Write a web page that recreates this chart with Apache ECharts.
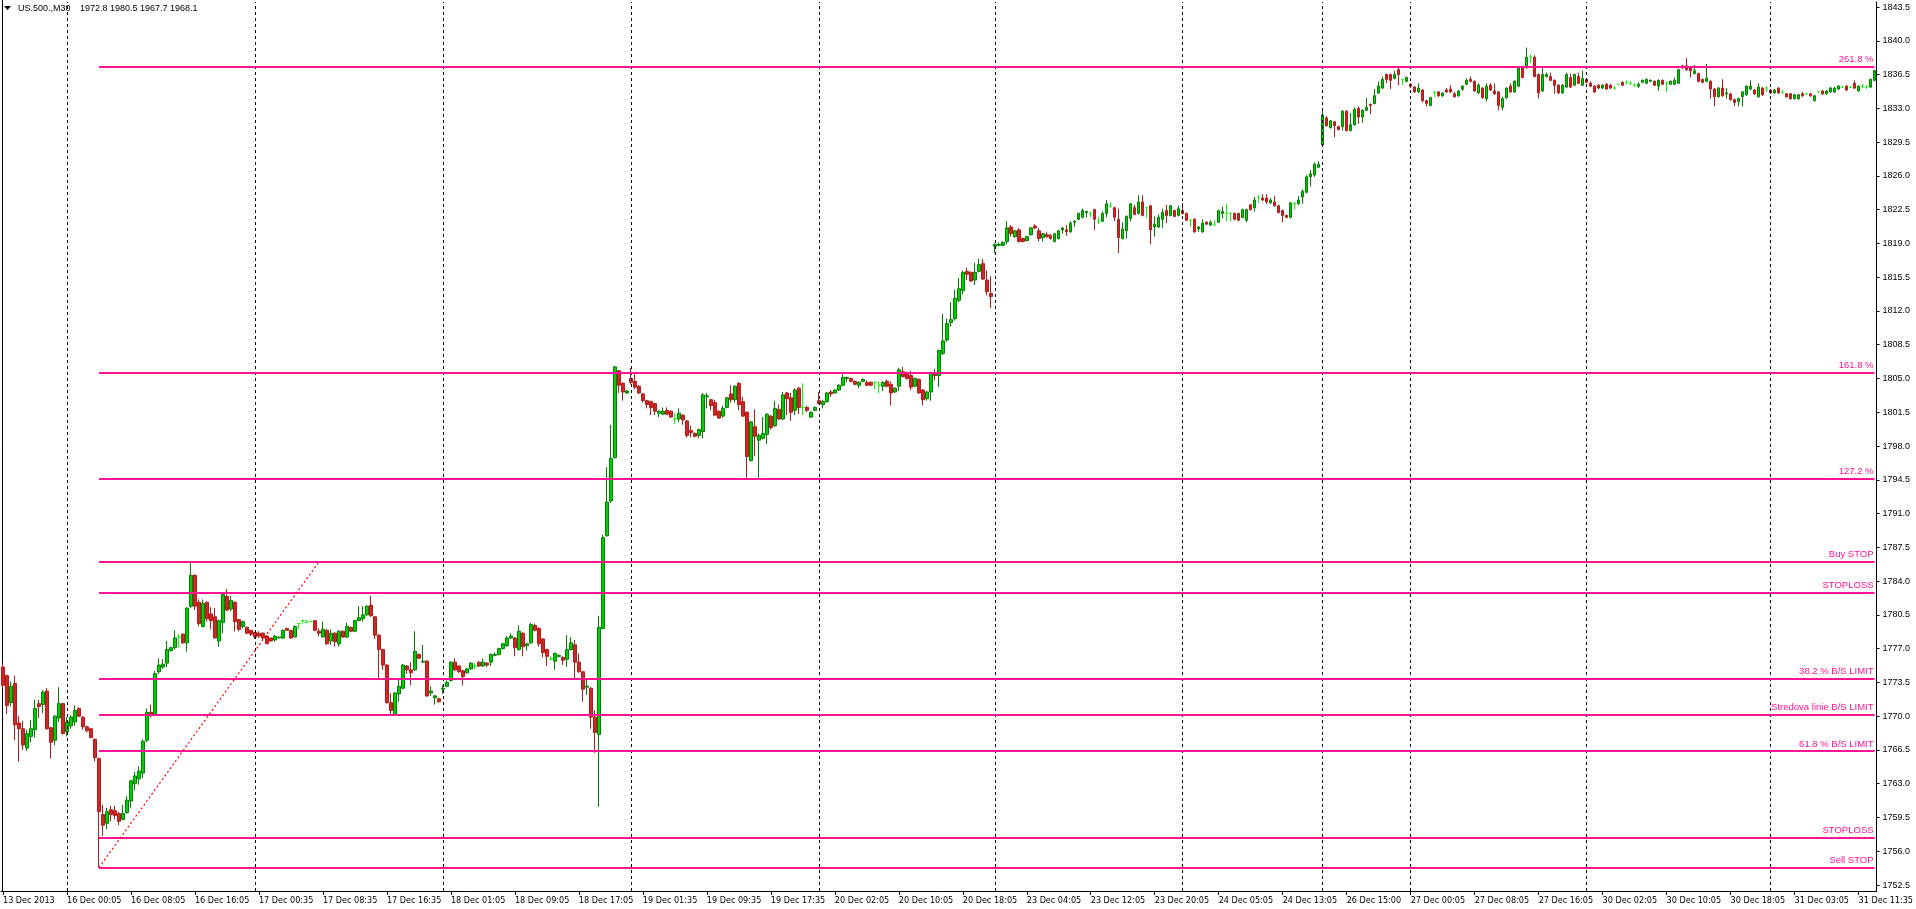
<!DOCTYPE html>
<html><head><meta charset="utf-8">
<script src="https://cdn.jsdelivr.net/npm/echarts@6/dist/echarts.min.js"></script>
<style>html,body{margin:0;padding:0;background:#fff;overflow:hidden}#c{width:1916px;height:909px}</style>
</head><body><div id="c"></div>
<script>
const symbolTitle = 'US.500.,M30';
const titleQuote = '1972.8 1980.5 1967.7 1968.1';
const timeLabels = ['13 Dec 2013','16 Dec 00:05','16 Dec 08:05','16 Dec 16:05','17 Dec 00:35','17 Dec 08:35','17 Dec 16:35','18 Dec 01:05','18 Dec 09:05','18 Dec 17:05','19 Dec 01:35','19 Dec 09:35','19 Dec 17:35','20 Dec 02:05','20 Dec 10:05','20 Dec 18:05','23 Dec 04:05','23 Dec 12:05','23 Dec 20:05','24 Dec 05:05','24 Dec 13:05','26 Dec 15:00','27 Dec 00:05','27 Dec 08:05','27 Dec 16:05','30 Dec 02:05','30 Dec 10:05','30 Dec 18:05','31 Dec 03:05','31 Dec 11:35'];
const labelStep = 16;
const priceTicks = [1752.5,1756.0,1759.5,1763.0,1766.5,1770.0,1773.5,1777.0,1780.5,1784.0,1787.5,1791.0,1794.5,1798.0,1801.5,1805.0,1808.5,1812.0,1815.5,1819.0,1822.5,1826.0,1829.5,1833.0,1836.5,1840.0,1843.5];
const daySeparators = [16,63,110,157,204,248,295,330,352,396,442];
const levelNames = ['261.8 %','161.8 %','127.2 %','Buy STOP','STOPLOSS','38.2 % B/S LIMIT','Stredova linie B/S LIMIT','61.8 % B/S LIMIT','STOPLOSS','Sell STOP'];
const levelPrices = [1837.3,1805.6,1794.6,1786.0,1782.8,1773.9,1770.15,1766.4,1757.4,1754.3];
const levelStartBar = 24;
const fiboTrend = [[24,1754.3],[79,1786.0]];
// [open, close, low, high]
const ohlc = [
[1775.1,1773.2,1772.9,1775.5],[1774.2,1771.1,1770.2,1774.3],[1771.4,1773.1,1771.0,1773.6],[1773.4,1769.1,1767.5,1774.2],[1769.3,1768.7,1765.3,1770.0],[1768.7,1767.0,1766.5,1769.5],[1766.7,1768.2,1766.4,1768.6],[1767.9,1768.7,1767.3,1769.6],[1768.6,1770.8,1767.8,1771.7],[1771.3,1771.0,1769.8,1771.7],
[1771.2,1772.5,1770.3,1772.7],[1772.6,1768.7,1768.6,1772.9],[1768.8,1767.3,1765.6,1768.9],[1767.5,1770.0,1767.0,1770.1],[1769.8,1771.3,1769.4,1773.0],[1771.3,1768.2,1768.1,1771.4],[1768.4,1769.4,1767.9,1769.9],[1769.0,1769.9,1768.7,1770.1],[1769.4,1770.6,1769.0,1771.1],[1770.8,1770.0,1769.9,1770.9],
[1769.9,1768.9,1768.6,1770.0],[1768.9,1768.5,1768.3,1769.0],[1768.7,1767.8,1767.7,1768.8],[1767.6,1765.7,1765.3,1767.7],[1765.6,1760.1,1754.3,1765.7],[1759.8,1758.7,1757.6,1760.8],[1758.9,1760.1,1758.3,1760.5],[1760.3,1759.8,1759.1,1760.7],[1760.2,1759.7,1759.3,1760.7],[1759.9,1759.1,1758.7,1760.1],
[1759.3,1759.9,1759.2,1760.8],[1760.0,1761.3,1759.9,1761.7],[1761.2,1763.3,1760.5,1763.4],[1763.0,1763.8,1762.3,1764.2],[1763.5,1764.3,1762.9,1764.8],[1764.1,1767.4,1763.6,1767.6],[1767.5,1770.4,1767.3,1770.8],[1770.4,1770.1,1769.9,1771.2],[1770.2,1774.4,1770.0,1774.7],[1774.6,1775.3,1774.4,1776.0],
[1775.1,1775.4,1774.9,1775.9],[1775.5,1776.9,1775.1,1777.8],[1776.8,1777.1,1776.7,1777.2],[1777.1,1778.1,1776.9,1778.9],[1778.2,1778.2,1777.1,1778.5],[1778.5,1777.6,1777.5,1778.6],[1777.6,1781.2,1776.7,1781.3],[1781.4,1784.6,1781.2,1785.9],[1784.6,1781.4,1781.0,1784.7],[1781.8,1779.6,1779.3,1782.1],
[1779.3,1781.7,1779.2,1782.1],[1781.8,1780.1,1779.8,1781.9],[1780.6,1779.9,1779.0,1781.3],[1780.3,1778.1,1778.1,1781.2],[1777.8,1779.9,1777.2,1780.0],[1779.7,1782.6,1778.6,1782.8],[1782.4,1781.0,1780.9,1783.2],[1781.1,1782.0,1780.9,1782.5],[1781.8,1779.8,1778.8,1781.9],[1780.0,1779.0,1778.8,1780.1],
[1779.3,1779.8,1779.1,1779.9],[1779.2,1778.6,1778.5,1779.3],[1778.9,1778.5,1778.3,1778.9],[1778.7,1778.2,1778.0,1778.7],[1778.6,1778.3,1778.1,1778.8],[1778.6,1778.1,1777.9,1778.7],[1778.3,1777.5,1777.5,1778.4],[1778.1,1777.8,1777.7,1778.1],[1777.9,1778.3,1777.7,1778.4],[1778.1,1778.2,1778.1,1778.2],
[1778.1,1778.9,1778.0,1779.0],[1779.1,1778.9,1778.9,1779.1],[1778.9,1778.1,1778.0,1778.9],[1778.2,1779.3,1778.2,1779.4],[1779.6,1779.6,1779.0,1779.6],[1779.9,1779.9,1779.6,1780.0],[1779.7,1779.7,1779.7,1780.0],[1779.8,1779.8,1779.8,1779.8],[1779.9,1778.9,1778.8,1779.9],[1778.8,1778.6,1778.3,1779.1],
[1778.2,1779.0,1778.2,1779.8],[1778.9,1777.5,1777.4,1779.0],[1777.8,1778.6,1777.4,1779.0],[1778.6,1777.7,1777.2,1778.7],[1777.5,1778.8,1777.2,1778.9],[1778.8,1778.2,1778.1,1778.9],[1778.2,1779.3,1778.1,1779.7],[1779.2,1778.8,1778.7,1779.3],[1778.8,1779.9,1778.7,1780.0],[1779.9,1780.2,1779.9,1781.4],
[1780.1,1780.5,1779.8,1781.4],[1780.5,1781.4,1780.4,1781.5],[1781.5,1780.4,1780.3,1782.5],[1780.3,1778.4,1778.0,1780.4],[1778.4,1776.9,1773.9,1778.5],[1776.9,1775.3,1774.8,1777.0],[1775.3,1771.4,1771.3,1775.4],[1771.4,1770.6,1770.0,1772.4],[1770.2,1772.4,1770.1,1772.5],[1772.3,1773.1,1771.5,1773.9],
[1772.9,1775.3,1772.8,1775.4],[1775.2,1774.8,1774.4,1775.3],[1774.8,1774.5,1773.2,1775.6],[1774.8,1776.7,1774.7,1778.8],[1776.4,1776.0,1775.9,1776.5],[1775.6,1775.7,1775.6,1777.4],[1775.7,1772.1,1772.0,1775.8],[1772.4,1772.6,1772.1,1773.1],[1771.9,1772.1,1771.2,1772.2],[1771.8,1771.5,1771.4,1771.9],
[1772.8,1772.9,1772.3,1773.2],[1773.1,1773.5,1773.0,1773.7],[1773.7,1775.6,1773.6,1775.7],[1775.6,1774.8,1774.7,1776.0],[1775.2,1774.6,1774.5,1775.3],[1774.7,1774.1,1773.2,1774.8],[1774.5,1774.9,1774.4,1775.0],[1774.9,1775.5,1774.8,1775.6],[1775.2,1775.2,1774.9,1775.5],[1775.6,1775.2,1775.1,1775.7],
[1775.2,1775.6,1775.1,1776.0],[1775.5,1775.3,1775.1,1775.6],[1775.6,1776.4,1775.2,1776.5],[1776.3,1776.4,1776.2,1776.6],[1776.4,1777.0,1776.3,1777.1],[1777.0,1777.5,1776.9,1777.6],[1777.3,1778.1,1777.2,1778.3],[1778.1,1778.3,1778.0,1778.6],[1778.1,1777.1,1776.2,1778.2],[1776.9,1778.8,1776.8,1779.4],
[1778.6,1777.2,1776.2,1778.7],[1777.3,1777.5,1776.8,1777.6],[1777.6,1779.5,1777.5,1779.7],[1779.4,1778.9,1778.8,1779.6],[1779.1,1777.5,1777.2,1779.2],[1778.0,1776.6,1776.1,1778.1],[1776.9,1776.2,1775.2,1777.0],[1775.9,1775.9,1775.9,1776.2],[1775.7,1776.5,1774.8,1776.6],[1776.2,1776.3,1776.1,1776.4],
[1776.1,1775.8,1775.3,1776.2],[1775.9,1776.9,1775.1,1778.4],[1776.9,1777.6,1776.8,1778.2],[1777.4,1775.6,1773.9,1777.9],[1775.6,1774.6,1774.5,1776.5],[1774.6,1772.8,1771.5,1774.7],[1773.0,1773.1,1772.2,1773.9],[1772.9,1769.9,1768.7,1773.0],[1769.9,1768.3,1766.2,1770.6],[1768.1,1779.2,1760.6,1780.4],
[1779.1,1788.5,1779.0,1788.8],[1788.7,1792.2,1788.6,1795.8],[1792.3,1796.7,1792.1,1800.2],[1796.8,1806.2,1796.7,1806.3],[1805.8,1804.3,1803.5,1805.9],[1804.5,1803.6,1802.7,1804.6],[1803.5,1803.7,1803.4,1803.8],[1805.0,1804.6,1804.4,1806.1],[1804.7,1804.1,1803.9,1805.5],[1804.2,1803.5,1803.4,1804.3],
[1803.4,1802.7,1802.5,1803.5],[1802.7,1802.3,1801.9,1802.8],[1802.6,1802.0,1801.2,1802.7],[1802.4,1801.6,1801.2,1802.5],[1801.4,1801.6,1801.0,1801.7],[1801.3,1801.6,1801.2,1802.0],[1801.7,1801.3,1801.2,1802.0],[1801.6,1801.0,1800.9,1801.7],[1800.8,1800.8,1800.3,1801.4],[1800.8,1801.4,1800.5,1801.9],
[1801.2,1800.7,1800.2,1801.3],[1800.6,1799.1,1798.9,1800.7],[1799.6,1799.4,1798.9,1800.1],[1799.3,1799.0,1798.9,1799.4],[1799.1,1799.7,1798.8,1799.8],[1799.5,1803.3,1798.8,1803.5],[1803.1,1803.2,1801.9,1803.5],[1802.8,1802.2,1801.7,1802.9],[1802.5,1801.2,1801.1,1802.8],[1801.6,1800.9,1800.8,1801.7],
[1801.1,1801.9,1800.9,1802.2],[1802.0,1803.0,1801.9,1803.1],[1803.4,1802.8,1802.5,1804.3],[1802.8,1804.2,1802.5,1804.3],[1804.5,1802.3,1801.7,1804.6],[1802.6,1801.1,1801.0,1803.1],[1801.5,1796.9,1794.7,1801.6],[1796.5,1800.5,1796.4,1800.6],[1800.0,1799.0,1797.0,1801.8],[1798.6,1799.1,1794.7,1799.3],
[1798.8,1799.3,1798.7,1801.0],[1799.2,1801.3,1798.2,1801.4],[1801.1,1799.9,1799.7,1801.2],[1800.1,1801.9,1800.0,1802.7],[1801.8,1800.8,1800.7,1802.3],[1800.8,1803.3,1800.7,1803.6],[1803.5,1802.9,1801.2,1803.6],[1803.0,1801.5,1800.6,1803.5],[1801.7,1803.8,1801.2,1804.0],[1804.0,1802.0,1801.3,1804.1],
[1802.0,1802.0,1801.2,1804.5],[1802.0,1801.7,1801.5,1802.2],[1801.0,1801.5,1800.9,1801.6],[1801.7,1802.0,1801.6,1802.1],[1802.7,1802.4,1802.3,1803.6],[1802.3,1802.6,1801.9,1802.8],[1802.6,1803.5,1802.5,1803.6],[1803.6,1803.4,1803.1,1803.8],[1803.5,1803.8,1803.4,1803.9],[1803.8,1804.3,1803.7,1804.4],
[1804.3,1805.1,1804.2,1805.6],[1805.0,1805.1,1804.6,1805.2],[1805.0,1804.7,1804.6,1805.1],[1804.7,1804.4,1804.3,1804.8],[1804.3,1804.6,1804.0,1804.7],[1804.7,1804.9,1804.6,1805.0],[1804.6,1804.3,1804.2,1804.8],[1804.6,1804.3,1804.2,1804.7],[1804.6,1804.6,1803.9,1804.6],[1804.3,1804.3,1803.5,1804.7],
[1804.2,1804.6,1803.7,1804.7],[1804.7,1804.2,1804.1,1804.9],[1804.4,1803.5,1802.2,1804.7],[1803.6,1804.0,1803.5,1804.1],[1804.2,1805.9,1803.7,1806.1],[1805.7,1805.2,1805.1,1806.2],[1805.6,1805.0,1804.9,1805.7],[1805.3,1804.1,1803.8,1805.8],[1804.2,1805.0,1804.1,1805.1],[1804.9,1803.5,1803.4,1805.0],
[1803.8,1802.8,1802.2,1803.9],[1802.9,1803.6,1802.7,1803.7],[1803.6,1805.6,1802.7,1805.7],[1805.6,1805.3,1804.8,1806.0],[1805.3,1807.9,1804.1,1808.0],[1807.6,1808.9,1807.4,1811.7],[1809.0,1810.7,1808.8,1811.2],[1810.8,1811.1,1810.4,1812.9],[1811.2,1813.3,1811.0,1814.2],[1813.1,1814.3,1812.9,1815.4],
[1814.1,1816.0,1813.7,1816.2],[1816.1,1815.8,1815.2,1816.5],[1816.0,1815.1,1815.0,1816.1],[1815.2,1816.0,1814.7,1817.0],[1816.1,1816.8,1816.0,1817.4],[1816.9,1815.3,1815.2,1817.4],[1815.2,1814.0,1813.6,1816.2],[1813.8,1813.5,1812.3,1815.6],[1818.7,1818.9,1818.0,1819.0],[1818.8,1818.9,1818.7,1819.1],
[1818.8,1819.1,1818.7,1819.2],[1819.2,1820.6,1818.9,1821.3],[1820.7,1820.0,1819.7,1820.9],[1819.7,1820.3,1819.6,1820.4],[1820.4,1819.2,1819.1,1820.6],[1819.5,1819.2,1819.1,1819.6],[1819.3,1819.7,1819.2,1819.8],[1819.9,1820.6,1819.8,1820.7],[1820.8,1820.6,1820.5,1821.0],[1820.3,1819.5,1819.2,1820.6],
[1819.6,1820.0,1819.2,1820.1],[1819.9,1819.7,1819.6,1820.2],[1819.8,1819.5,1819.4,1820.0],[1819.2,1820.0,1819.1,1820.1],[1819.5,1820.3,1819.4,1820.4],[1820.4,1820.6,1820.0,1820.7],[1820.4,1820.2,1819.8,1820.9],[1820.2,1821.1,1820.1,1821.3],[1821.2,1821.3,1820.7,1821.4],[1821.5,1822.1,1821.4,1822.2],
[1821.7,1822.4,1821.6,1822.6],[1822.2,1822.3,1821.7,1822.4],[1822.1,1822.1,1821.7,1822.3],[1822.5,1821.5,1820.4,1822.6],[1821.3,1821.3,1821.0,1821.7],[1821.3,1822.1,1821.2,1822.3],[1822.1,1823.1,1821.7,1823.5],[1822.8,1822.8,1822.8,1823.3],[1822.7,1821.7,1821.3,1822.8],[1821.5,1819.6,1818.0,1822.6],
[1819.5,1820.5,1819.4,1821.2],[1820.3,1821.8,1819.5,1821.9],[1821.6,1823.1,1821.3,1823.2],[1822.7,1822.0,1821.9,1823.0],[1822.1,1823.3,1822.0,1824.0],[1823.3,1821.9,1821.8,1824.0],[1822.7,1822.7,1821.6,1822.8],[1822.9,1820.4,1818.9,1823.0],[1820.7,1821.0,1819.7,1821.8],[1820.7,1821.7,1820.6,1822.0],
[1821.5,1822.2,1820.6,1822.6],[1822.4,1821.9,1821.1,1823.0],[1821.9,1822.9,1821.8,1823.0],[1822.4,1821.8,1821.7,1822.5],[1821.9,1822.6,1821.8,1822.9],[1822.4,1822.1,1822.0,1823.2],[1822.1,1821.4,1821.3,1822.2],[1821.4,1821.4,1820.7,1821.5],[1821.5,1820.2,1820.1,1821.6],[1820.5,1820.7,1820.2,1820.8],
[1820.2,1821.1,1820.1,1821.5],[1821.2,1821.0,1820.9,1821.3],[1820.9,1821.2,1820.8,1821.4],[1820.9,1820.9,1820.9,1821.4],[1821.2,1822.4,1821.1,1822.5],[1822.1,1822.3,1821.6,1822.8],[1822.1,1822.1,1821.3,1823.1],[1822.1,1822.1,1821.3,1822.2],[1822.1,1821.5,1821.4,1822.2],[1822.1,1821.4,1821.3,1822.2],
[1821.7,1822.5,1821.6,1822.6],[1821.4,1822.5,1821.2,1822.6],[1823.0,1822.5,1822.4,1823.1],[1822.7,1823.5,1822.3,1823.8],[1823.8,1823.8,1823.2,1824.0],[1823.7,1823.5,1823.4,1824.1],[1823.7,1823.3,1823.1,1824.1],[1823.2,1823.5,1823.1,1823.7],[1823.3,1822.9,1822.8,1823.9],[1822.9,1822.2,1822.1,1823.0],
[1822.4,1821.9,1821.2,1822.5],[1821.9,1821.7,1821.6,1822.0],[1821.7,1823.2,1821.6,1823.3],[1823.1,1823.1,1822.5,1823.3],[1823.1,1823.5,1823.0,1823.9],[1823.8,1824.4,1823.1,1824.6],[1824.3,1825.9,1824.2,1826.1],[1825.9,1826.2,1824.9,1826.6],[1826.1,1827.2,1825.9,1827.4],[1826.9,1827.2,1826.8,1827.5],
[1829.2,1832.3,1829.1,1832.8],[1832.0,1831.2,1831.1,1832.2],[1831.0,1831.7,1830.9,1831.8],[1831.6,1831.2,1830.0,1831.7],[1831.1,1830.8,1830.7,1831.2],[1831.1,1832.7,1830.7,1832.8],[1832.7,1830.7,1830.6,1832.8],[1830.7,1831.3,1830.6,1832.5],[1831.3,1832.9,1831.2,1833.1],[1833.0,1832.1,1831.4,1833.2],
[1832.1,1832.8,1831.5,1832.9],[1832.8,1833.1,1832.7,1834.1],[1833.4,1833.3,1832.4,1833.5],[1833.5,1834.3,1833.4,1835.0],[1834.6,1835.3,1834.5,1835.8],[1835.1,1836.0,1835.0,1836.3],[1836.5,1836.0,1835.6,1836.6],[1836.5,1835.9,1835.0,1836.6],[1836.1,1836.5,1836.0,1836.9],[1837.0,1836.5,1835.4,1837.2],
[1836.0,1836.0,1835.4,1836.0],[1835.8,1836.2,1835.7,1836.3],[1835.5,1835.3,1835.1,1835.6],[1835.2,1834.7,1834.6,1835.3],[1834.7,1835.1,1834.6,1835.6],[1834.9,1833.8,1833.6,1835.0],[1833.8,1833.5,1833.2,1833.9],[1833.3,1834.1,1833.2,1834.2],[1834.6,1834.6,1834.2,1834.8],[1834.7,1834.3,1834.2,1834.8],
[1834.3,1834.6,1834.2,1834.6],[1834.9,1834.7,1834.6,1835.1],[1835.0,1834.7,1834.6,1835.4],[1834.5,1834.2,1834.1,1834.7],[1834.3,1834.8,1834.2,1834.9],[1835.0,1835.3,1834.8,1835.4],[1835.5,1835.9,1835.4,1836.1],[1836.0,1835.8,1835.7,1836.3],[1835.8,1834.8,1834.7,1835.9],[1834.6,1835.4,1834.5,1835.6],
[1835.1,1834.1,1834.0,1835.2],[1834.0,1835.3,1833.7,1835.6],[1835.4,1834.9,1834.8,1835.6],[1834.8,1834.5,1834.4,1835.6],[1834.7,1833.3,1832.8,1834.8],[1833.1,1834.0,1832.8,1834.2],[1834.1,1835.1,1834.0,1835.2],[1835.3,1834.7,1834.6,1835.6],[1834.7,1835.8,1834.6,1835.9],[1835.3,1837.2,1835.2,1837.3],
[1837.3,1836.2,1836.1,1837.4],[1837.2,1838.3,1837.1,1839.3],[1838.3,1838.3,1837.7,1838.6],[1838.3,1836.3,1836.2,1838.5],[1836.5,1834.6,1834.0,1836.6],[1834.8,1836.5,1834.7,1837.2],[1836.3,1836.5,1836.2,1836.7],[1836.3,1835.9,1835.8,1836.7],[1835.9,1835.4,1834.5,1836.0],[1835.4,1834.6,1834.5,1835.5],
[1834.6,1835.4,1834.5,1835.5],[1835.2,1836.5,1835.1,1836.7],[1836.2,1835.2,1835.1,1836.6],[1835.4,1836.5,1835.3,1836.6],[1836.3,1835.6,1835.5,1836.7],[1835.4,1836.1,1835.3,1836.9],[1836.0,1835.7,1835.6,1836.1],[1835.6,1835.3,1835.2,1835.8],[1835.3,1834.7,1834.6,1835.4],[1835.4,1835.1,1835.0,1835.5],
[1835.1,1835.4,1835.0,1835.5],[1835.5,1835.0,1834.9,1835.6],[1835.4,1835.1,1835.0,1835.5],[1835.1,1835.1,1834.9,1835.3],[1835.5,1835.5,1835.5,1835.5],[1835.7,1835.4,1835.3,1835.8],[1835.7,1835.7,1835.5,1835.9],[1835.6,1835.6,1835.4,1835.8],[1835.4,1835.4,1835.2,1835.6],[1835.3,1835.5,1835.1,1835.7],
[1835.7,1835.9,1835.6,1836.0],[1835.6,1836.0,1835.5,1836.1],[1835.8,1835.9,1835.7,1836.0],[1835.8,1835.4,1835.3,1835.9],[1835.3,1835.9,1834.8,1836.0],[1835.9,1835.5,1835.4,1836.0],[1835.6,1835.6,1834.7,1835.8],[1835.5,1835.8,1835.4,1835.9],[1835.5,1835.9,1835.4,1836.2],[1835.6,1837.0,1835.5,1837.1],
[1837.4,1837.2,1837.1,1837.5],[1837.4,1837.0,1836.9,1838.2],[1837.2,1836.9,1836.2,1837.3],[1836.6,1836.9,1836.5,1837.5],[1836.6,1835.8,1835.7,1836.7],[1836.0,1835.7,1835.6,1836.1],[1835.8,1836.1,1835.7,1837.6],[1835.8,1835.0,1834.0,1835.9],[1835.0,1834.2,1833.2,1835.1],[1834.2,1835.1,1834.1,1835.2],
[1835.1,1834.3,1834.2,1836.0],[1834.5,1834.6,1834.0,1835.1],[1834.5,1833.9,1833.8,1834.6],[1833.9,1833.6,1833.2,1834.0],[1833.7,1834.0,1833.2,1834.1],[1834.2,1834.7,1833.2,1834.8],[1834.4,1835.3,1834.3,1835.4],[1835.0,1835.3,1834.9,1835.9],[1834.9,1834.5,1834.4,1835.0],[1834.2,1835.2,1834.1,1835.6],
[1835.1,1834.4,1834.3,1835.2],[1835.1,1835.1,1834.7,1835.3],[1834.9,1834.6,1834.5,1835.0],[1834.6,1834.9,1834.5,1835.0],[1835.1,1834.6,1834.5,1835.2],[1834.6,1834.6,1834.6,1834.9],[1834.5,1834.2,1834.1,1834.6],[1834.5,1834.0,1833.9,1834.6],[1834.0,1834.4,1833.9,1834.5],[1834.0,1834.4,1833.9,1834.5],
[1834.5,1834.3,1834.2,1834.7],[1834.5,1834.5,1834.4,1834.6],[1834.5,1834.3,1834.2,1834.6],[1833.8,1834.3,1833.7,1834.4],[1834.7,1834.7,1834.6,1834.8],[1834.8,1834.5,1834.4,1834.9],[1834.5,1834.8,1834.4,1834.9],[1834.7,1835.1,1834.6,1835.2],[1834.7,1835.1,1834.6,1835.2],[1835.0,1835.3,1834.9,1835.4],
[1835.2,1835.2,1835.1,1835.3],[1835.3,1834.9,1834.8,1835.4],[1835.2,1835.2,1835.1,1835.3],[1835.6,1835.1,1835.0,1835.9],[1834.8,1835.3,1834.7,1835.4],[1835.3,1835.3,1835.1,1835.5],[1835.2,1835.2,1835.0,1835.4],[1835.2,1836.0,1835.1,1836.1],[1835.9,1836.9,1835.8,1837.0]
];

const chart = echarts.init(document.getElementById('c'), null, {renderer: 'canvas'});
const LEVEL_COLOR = '#ff1493';
const FONT = '"Liberation Sans", Arial, sans-serif';
const GRID_LEFT = 1, GRID_TOP = 2, GRID_BOTTOM = 18;
const PLOT_W = 1876;
const cats = ohlc.map((d, i) => String(i));
const dojiStyle = {color: '#00ff00', color0: '#00ff00', borderColor: '#00ff00', borderColor0: '#00ff00'};
const candleData = ohlc.map(d => d[0] === d[1] ? {value: d, itemStyle: dojiStyle} : d);
const lastBar = ohlc.length - 1;

const markData = [];
daySeparators.forEach(b => markData.push({xAxis: b, lineStyle: {color: '#000', type: [3, 3], width: 1}, label: {show: false}}));
levelPrices.forEach((p, i) => markData.push([
  {coord: [levelStartBar, p], lineStyle: {color: LEVEL_COLOR, width: 2, type: 'solid'},
   label: {show: true, position: 'insideEndTop', formatter: levelNames[i], color: LEVEL_COLOR, fontSize: 9.5, fontFamily: FONT, distance: [1, 2]}},
  {coord: [lastBar, p]}
]));
markData.push([
  {coord: fiboTrend[0], lineStyle: {color: '#ff0000', width: 1.2, type: [2, 2.5]}, label: {show: false}},
  {coord: fiboTrend[1]}
]);

const option = {
  animation: false,
  backgroundColor: '#ffffff',
  grid: {left: GRID_LEFT, top: GRID_TOP, width: PLOT_W, bottom: GRID_BOTTOM, containLabel: false},
  xAxis: {
    type: 'category', data: cats, boundaryGap: true,
    axisLine: {show: true, lineStyle: {color: '#000', width: 1}},
    axisTick: {show: true, alignWithLabel: true, length: 4, interval: (i) => i % labelStep === 0, lineStyle: {color: '#000'}},
    axisLabel: {show: true, interval: (i) => i % labelStep === 0, align: 'left', margin: 5,
      formatter: (v, i) => timeLabels[Math.round(i / labelStep)] || '', color: '#000', fontSize: 9,
      fontFamily: '"Liberation Sans Narrow", "DejaVu Sans Condensed", "Liberation Sans", sans-serif'},
    splitLine: {show: false}
  },
  yAxis: {
    type: 'value', position: 'right', min: 1751.88, max: 1844.02, scale: true,
    axisLine: {show: true, onZero: false, lineStyle: {color: '#000', width: 1}},
    axisTick: {show: true, length: 3, customValues: priceTicks, lineStyle: {color: '#000'}},
    axisLabel: {show: true, customValues: priceTicks, margin: 6, color: '#000', fontSize: 9, fontFamily: FONT,
      formatter: (v) => v.toFixed(1)},
    splitLine: {show: false}
  },
  series: [{
    type: 'candlestick', data: candleData, barWidth: 3, silent: true,
    itemStyle: {color: '#00d200', color0: '#d42424', borderColor: '#008000', borderColor0: '#b31b1b', borderColorDoji: '#00ff00', borderWidth: 1},
    markLine: {silent: true, symbol: ['none', 'none'], animation: false, precision: 2, data: markData}
  }],
  graphic: [
    {type: 'line', shape: {x1: 2.5, y1: 0, x2: 2.5, y2: 891}, style: {stroke: '#000', lineWidth: 1}, silent: true},
    {type: 'polygon', shape: {points: [[4, 6], [11, 6], [7.5, 10]]}, style: {fill: '#000'}, silent: true},
    {type: 'text', left: 18, top: 4, style: {text: symbolTitle, font: '9px ' + FONT, fill: '#000'}, silent: true},
    {type: 'text', left: 80, top: 4, style: {text: titleQuote, font: '9px ' + FONT, fill: '#000'}, silent: true}
  ]
};
chart.setOption(option);
</script>
</body></html>
